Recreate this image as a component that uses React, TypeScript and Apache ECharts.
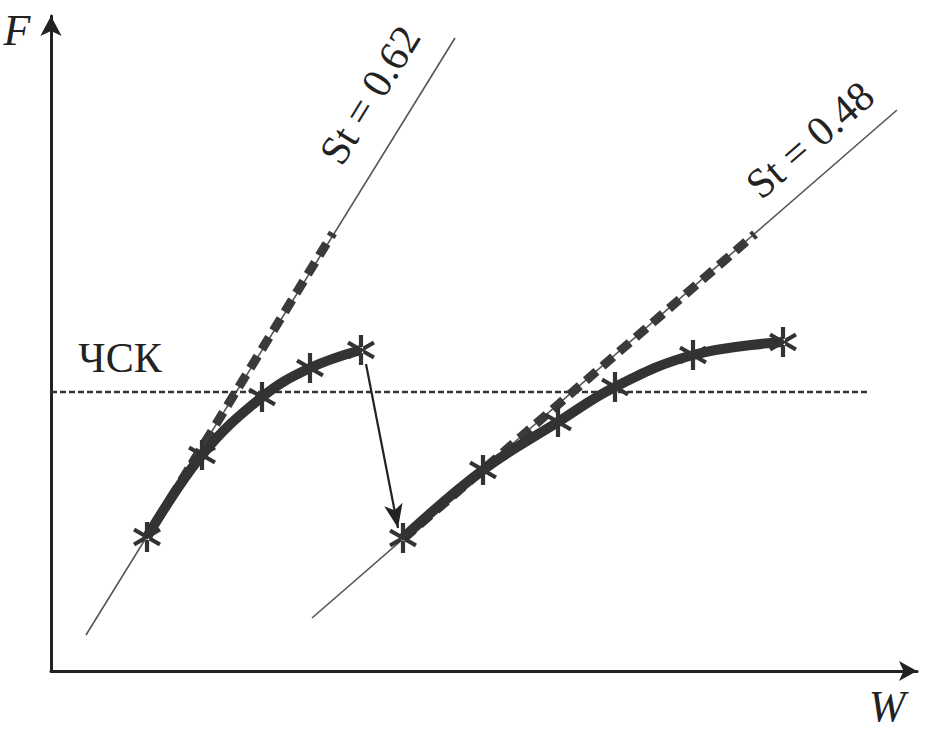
import React, { useEffect, useRef } from "react";
import * as echarts from "echarts";

// Data coordinates (arbitrary units: W horizontally, F vertically)
const stLine062: number[][] = [[35, 36], [404, 633]];
const stLine048: number[][] = [[261, 53], [846, 561]];
const tangent062: number[][] = [[96, 134], [282, 438]];
const tangent048: number[][] = [[352, 132], [704, 437]];
const curve1: number[][] = [[96, 134], [151, 216], [211, 274], [259, 303], [310, 321]];
const curve2: number[][] = [[352, 133], [432, 201], [507, 249], [564, 284], [642, 316], [732, 329]];
const cskLevel: number[][] = [[0, 279], [817, 279]];
const jumpArrow: number[][] = [[315, 307], [347, 143]];

const labelSt1 = "St = 0.62";
const labelSt2 = "St = 0.48";
const labelCsk = "ЧСК";
const labelF = "F";
const labelW = "W";

const asterisk =
  "path://M43 0 L57 0 L57 100 L43 100 Z M10.2 81.06 L96.8 31.06 L89.8 18.94 L3.2 68.94 Z M3.2 31.06 L89.8 81.06 L96.8 68.94 L10.2 18.94 Z";

const DARK = "#333333";
const SERIF = "Liberation Serif, DejaVu Serif, serif";

export default function App() {
  const ref = useRef<HTMLDivElement>(null);
  useEffect(() => {
    if (!ref.current) return;
    const chart = echarts.init(ref.current, undefined, { renderer: "svg" });
    chart.setOption({
      animation: false,
      backgroundColor: "#ffffff",
      grid: { left: 51, right: 13, top: 16, bottom: 63 },
      xAxis: {
        type: "value",
        min: 0,
        max: 866,
        axisLine: {
          show: true,
          symbol: ["none", "arrow"],
          symbolSize: [15, 18],
          lineStyle: { color: "#222", width: 3 },
        },
        axisTick: { show: false },
        axisLabel: { show: false },
        splitLine: { show: false },
      },
      yAxis: {
        type: "value",
        min: 0,
        max: 655,
        axisLine: {
          show: true,
          symbol: ["none", "arrow"],
          symbolSize: [16, 20],
          lineStyle: { color: "#222", width: 3 },
        },
        axisTick: { show: false },
        axisLabel: { show: false },
        splitLine: { show: false },
      },
      series: [
        {
          type: "line",
          data: stLine062,
          showSymbol: false,
          lineStyle: { color: "#555", width: 1.6 },
          z: 1,
        },
        {
          type: "line",
          data: stLine048,
          showSymbol: false,
          lineStyle: { color: "#555", width: 1.6 },
          z: 1,
        },
        {
          type: "line",
          data: cskLevel,
          showSymbol: false,
          lineStyle: { color: DARK, width: 2.5, type: [6, 3] },
          z: 1,
        },
        {
          type: "line",
          data: tangent062,
          showSymbol: false,
          lineStyle: { color: "#3a3a3a", width: 9, type: [14, 8] },
          z: 2,
        },
        {
          type: "line",
          data: tangent048,
          showSymbol: false,
          lineStyle: { color: "#3a3a3a", width: 9, type: [14, 8] },
          z: 2,
        },
        {
          type: "line",
          data: curve1,
          smooth: 0.4,
          symbol: asterisk,
          symbolSize: [28, 30],
          showSymbol: true,
          itemStyle: { color: DARK },
          lineStyle: { color: DARK, width: 10 },
          z: 3,
          markLine: {
            silent: true,
            symbol: ["none", "arrow"],
            symbolSize: [14, 24],
            label: { show: false },
            lineStyle: { color: "#222", width: 2.2, type: "solid" },
            data: [[{ coord: jumpArrow[0] }, { coord: jumpArrow[1] }]],
          },
        },
        {
          type: "line",
          data: curve2,
          smooth: 0.4,
          symbol: asterisk,
          symbolSize: [28, 30],
          showSymbol: true,
          itemStyle: { color: DARK },
          lineStyle: { color: DARK, width: 10 },
          z: 3,
        },
      ],
      graphic: [
        {
          type: "text",
          x: 370,
          y: 95,
          rotation: (58.3 * Math.PI) / 180,
          style: {
            text: labelSt1,
            fontSize: 42,
            fontFamily: SERIF,
            fill: "#222",
            textAlign: "center",
            textVerticalAlign: "middle",
          },
        },
        {
          type: "text",
          x: 810,
          y: 140,
          rotation: (41 * Math.PI) / 180,
          style: {
            text: labelSt2,
            fontSize: 42,
            fontFamily: SERIF,
            fill: "#222",
            textAlign: "center",
            textVerticalAlign: "middle",
          },
        },
        {
          type: "text",
          x: 120,
          y: 358,
          style: {
            text: labelCsk,
            fontSize: 42,
            fontFamily: SERIF,
            fill: "#222",
            textAlign: "center",
            textVerticalAlign: "middle",
          },
        },
        {
          type: "text",
          x: 17,
          y: 30,
          style: {
            text: labelF,
            fontSize: 44,
            fontStyle: "italic",
            fontFamily: SERIF,
            fill: "#222",
            textAlign: "center",
            textVerticalAlign: "middle",
          },
        },
        {
          type: "text",
          x: 887,
          y: 706,
          style: {
            text: labelW,
            fontSize: 44,
            fontStyle: "italic",
            fontFamily: SERIF,
            fill: "#222",
            textAlign: "center",
            textVerticalAlign: "middle",
          },
        },
      ],
    });
    return () => chart.dispose();
  }, []);
  return (
    <div
      ref={ref}
      style={{ position: "absolute", left: 0, top: 0, width: 930, height: 734 }}
    />
  );
}
